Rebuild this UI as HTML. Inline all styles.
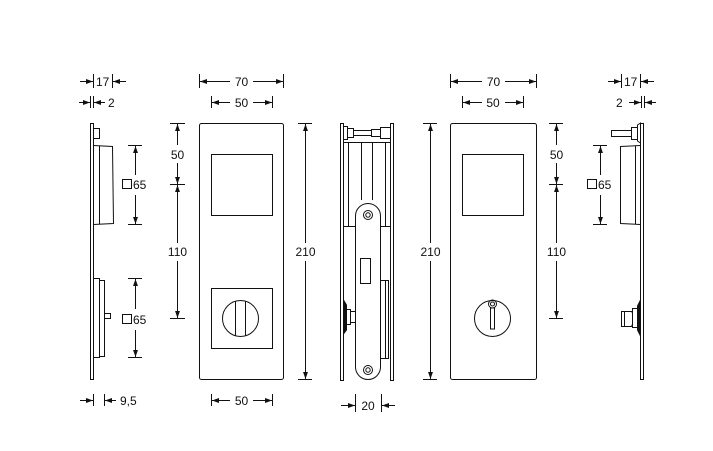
<!DOCTYPE html>
<html><head><meta charset="utf-8"><style>
html,body{margin:0;padding:0;background:#fff;}
svg{display:block}
text{font-family:"Liberation Sans",sans-serif;font-size:12px;fill:#111}
</style></head><body>
<svg width="713" height="451" viewBox="0 0 713 451" xmlns="http://www.w3.org/2000/svg">
<defs>
<marker id="a" viewBox="0 0 10 10" refX="10" refY="5" markerWidth="7" markerHeight="7" orient="auto-start-reverse" markerUnits="userSpaceOnUse"><path d="M0,1.5 L10,5 L0,8.5 z" fill="#111"/></marker>
</defs>
<g stroke="#111" stroke-width="1" fill="none">
<rect x="90.5" y="123.5" width="3" height="256"/>
<rect x="93.5" y="128.5" width="6" height="10"/>
<path d="M93.5,145.5 L112.5,146.5 L113.5,223.5 L93.5,224.5"/>
<line x1="99.5" y1="146" x2="99.5" y2="224"/>
<rect x="93.5" y="278.5" width="6" height="79"/>
<rect x="99.5" y="280.5" width="5" height="76"/>
<rect x="104.5" y="313.5" width="6" height="5"/>
<line x1="128" y1="145.5" x2="142" y2="145.5"/><line x1="128" y1="224.5" x2="142" y2="224.5"/>
<line x1="135.5" y1="146" x2="135.5" y2="175" marker-start="url(#a)"/>
<line x1="135.5" y1="195" x2="135.5" y2="224" marker-end="url(#a)"/>
<line x1="128" y1="278.5" x2="142" y2="278.5"/><line x1="128" y1="357.5" x2="142" y2="357.5"/>
<line x1="135.5" y1="279" x2="135.5" y2="309" marker-start="url(#a)"/>
<line x1="135.5" y1="330" x2="135.5" y2="357" marker-end="url(#a)"/>
<rect x="122.5" y="179.5" width="9" height="9"/>
<rect x="122.5" y="314.5" width="9" height="9"/>
<line x1="93.5" y1="74" x2="93.5" y2="88"/><line x1="112.5" y1="74" x2="112.5" y2="88"/>
<line x1="80" y1="81.5" x2="93" y2="81.5" marker-end="url(#a)"/>
<line x1="126" y1="81.5" x2="113" y2="81.5" marker-end="url(#a)"/>
<line x1="90.5" y1="96" x2="90.5" y2="108"/><line x1="93.5" y1="96" x2="93.5" y2="108"/>
<line x1="79" y1="102.5" x2="90" y2="102.5" marker-end="url(#a)"/>
<line x1="105" y1="102.5" x2="94" y2="102.5" marker-end="url(#a)"/>
<line x1="93.5" y1="394" x2="93.5" y2="406"/><line x1="104.5" y1="394" x2="104.5" y2="406"/>
<line x1="80" y1="400.5" x2="93" y2="400.5" marker-end="url(#a)"/>
<line x1="116" y1="400.5" x2="105" y2="400.5" marker-end="url(#a)"/>

<rect x="199.5" y="123.5" width="84" height="256" rx="2"/>
<rect x="211.5" y="154.5" width="61" height="61"/>
<rect x="211.5" y="288.5" width="61" height="60"/>
<circle cx="240.5" cy="318.5" r="18"/>
<line x1="235.5" y1="301" x2="235.5" y2="336"/><line x1="245.5" y1="301" x2="245.5" y2="336"/>
<line x1="199.5" y1="74" x2="199.5" y2="88"/><line x1="283.5" y1="74" x2="283.5" y2="88"/>
<line x1="200" y1="81.5" x2="230" y2="81.5" marker-start="url(#a)"/>
<line x1="253" y1="81.5" x2="283" y2="81.5" marker-end="url(#a)"/>
<line x1="211.5" y1="96" x2="211.5" y2="108"/><line x1="272.5" y1="96" x2="272.5" y2="108"/>
<line x1="212" y1="102.5" x2="230" y2="102.5" marker-start="url(#a)"/>
<line x1="253" y1="102.5" x2="272" y2="102.5" marker-end="url(#a)"/>
<line x1="211.5" y1="394" x2="211.5" y2="406"/><line x1="272.5" y1="394" x2="272.5" y2="406"/>
<line x1="212" y1="400.5" x2="230" y2="400.5" marker-start="url(#a)"/>
<line x1="253" y1="400.5" x2="272" y2="400.5" marker-end="url(#a)"/>
<line x1="170" y1="123.5" x2="185" y2="123.5"/><line x1="170" y1="184.5" x2="185" y2="184.5"/><line x1="170" y1="318.5" x2="185" y2="318.5"/>
<line x1="177.5" y1="124" x2="177.5" y2="145" marker-start="url(#a)"/>
<line x1="177.5" y1="163" x2="177.5" y2="184" marker-end="url(#a)"/>
<line x1="177.5" y1="185" x2="177.5" y2="243" marker-start="url(#a)"/>
<line x1="177.5" y1="261" x2="177.5" y2="318" marker-end="url(#a)"/>
<line x1="298" y1="123.5" x2="312" y2="123.5"/><line x1="298" y1="379.5" x2="312" y2="379.5"/>
<line x1="305.5" y1="124" x2="305.5" y2="243" marker-start="url(#a)"/>
<line x1="305.5" y1="261" x2="305.5" y2="379" marker-end="url(#a)"/>

<rect x="340.5" y="123.5" width="3" height="257"/>
<rect x="390.5" y="123.5" width="3" height="257"/>
<rect x="343.5" y="126.5" width="4" height="13"/>
<rect x="347.5" y="128.5" width="6" height="9"/>
<rect x="353.5" y="130.5" width="18" height="5"/>
<rect x="371.5" y="129.5" width="9" height="7"/>
<rect x="380.5" y="127.5" width="10" height="11"/>
<line x1="343" y1="142.5" x2="391" y2="142.5"/>
<path d="M348.5,143 L348.5,226 M361.5,143 L361.5,200 M372.5,143 L372.5,200 M385.5,143 L385.5,226"/>
<line x1="343" y1="226.5" x2="356" y2="226.5"/><line x1="380" y1="226.5" x2="391" y2="226.5"/>
<path d="M355.5,216 A12.5,12.5 0 0 1 380.5,216 L380.5,367 A12.5,12.5 0 0 1 355.5,367 Z"/>
<circle cx="368" cy="215" r="4.5"/><circle cx="368" cy="215" r="2.2"/>
<circle cx="368" cy="370" r="4.5"/><circle cx="368" cy="370" r="2.2"/>
<rect x="360.5" y="258.5" width="10" height="25"/>
<rect x="380.5" y="280.5" width="8" height="78"/>
<line x1="385.5" y1="281" x2="385.5" y2="358"/>
<path d="M343.5,300 L346.5,305 L346.5,330 L343.5,334 Z" fill="#111"/>
<rect x="346.5" y="309.5" width="4" height="15"/>
<rect x="350.5" y="311.5" width="5" height="11"/>
<line x1="355.5" y1="394" x2="355.5" y2="412"/><line x1="381.5" y1="394" x2="381.5" y2="412"/>
<line x1="341" y1="405.5" x2="355" y2="405.5" marker-end="url(#a)"/>
<line x1="395" y1="405.5" x2="382" y2="405.5" marker-end="url(#a)"/>

<rect x="450.5" y="123.5" width="86" height="256" rx="2"/>
<rect x="462.5" y="154.5" width="61" height="61"/>
<circle cx="492.5" cy="318.5" r="18"/>
<circle cx="492.5" cy="304" r="4"/><circle cx="492.5" cy="304" r="2"/>
<rect x="490.5" y="308" width="4" height="21"/>
<line x1="450.5" y1="74" x2="450.5" y2="88"/><line x1="536.5" y1="74" x2="536.5" y2="88"/>
<line x1="451" y1="81.5" x2="482" y2="81.5" marker-start="url(#a)"/>
<line x1="505" y1="81.5" x2="536" y2="81.5" marker-end="url(#a)"/>
<line x1="462.5" y1="96" x2="462.5" y2="108"/><line x1="523.5" y1="96" x2="523.5" y2="108"/>
<line x1="463" y1="102.5" x2="482" y2="102.5" marker-start="url(#a)"/>
<line x1="505" y1="102.5" x2="523" y2="102.5" marker-end="url(#a)"/>
<line x1="423" y1="123.5" x2="437" y2="123.5"/><line x1="423" y1="379.5" x2="437" y2="379.5"/>
<line x1="430.5" y1="124" x2="430.5" y2="243" marker-start="url(#a)"/>
<line x1="430.5" y1="261" x2="430.5" y2="379" marker-end="url(#a)"/>
<line x1="549" y1="123.5" x2="563" y2="123.5"/><line x1="549" y1="184.5" x2="563" y2="184.5"/><line x1="549" y1="318.5" x2="563" y2="318.5"/>
<line x1="556.5" y1="124" x2="556.5" y2="145" marker-start="url(#a)"/>
<line x1="556.5" y1="163" x2="556.5" y2="184" marker-end="url(#a)"/>
<line x1="556.5" y1="185" x2="556.5" y2="243" marker-start="url(#a)"/>
<line x1="556.5" y1="261" x2="556.5" y2="318" marker-end="url(#a)"/>

<rect x="640.5" y="123.5" width="3" height="256"/>
<rect x="611.5" y="130.5" width="20" height="6"/>
<rect x="631.5" y="127.5" width="6" height="12"/>
<path d="M637.5,125 L640.5,123 L640.5,143 L637.5,141 Z"/>
<path d="M640.5,145.5 L620.5,146.5 L620.5,223.5 L640.5,224.5"/>
<line x1="635.5" y1="146" x2="635.5" y2="224"/>
<path d="M640.5,300 L637.5,306 L637.5,330 L640.5,336 Z" fill="#111"/>
<rect x="632.5" y="308.5" width="5" height="19"/>
<path d="M621.5,311.5 L631.5,311.5 L632.5,313 L632.5,324 L631.5,326.5 L621.5,326.5 Z"/>
<line x1="624.5" y1="312" x2="624.5" y2="326"/>
<line x1="593" y1="145.5" x2="607" y2="145.5"/><line x1="593" y1="224.5" x2="607" y2="224.5"/>
<line x1="600.5" y1="146" x2="600.5" y2="175" marker-start="url(#a)"/>
<line x1="600.5" y1="195" x2="600.5" y2="224" marker-end="url(#a)"/>
<rect x="587.5" y="179.5" width="9" height="9"/>
<line x1="621.5" y1="74" x2="621.5" y2="88"/><line x1="640.5" y1="74" x2="640.5" y2="88"/>
<line x1="608" y1="81.5" x2="621" y2="81.5" marker-end="url(#a)"/>
<line x1="654" y1="81.5" x2="641" y2="81.5" marker-end="url(#a)"/>
<line x1="641.5" y1="96" x2="641.5" y2="108"/><line x1="644.5" y1="96" x2="644.5" y2="108"/>
<line x1="629" y1="102.5" x2="641" y2="102.5" marker-end="url(#a)"/>
<line x1="656" y1="102.5" x2="645" y2="102.5" marker-end="url(#a)"/>
</g>
<g>
<text x="96" y="86">17</text>
<text x="108" y="107">2</text>
<text x="133" y="189">65</text>
<text x="133" y="324">65</text>
<text x="120" y="405">9,5</text>
<text x="241.5" y="86" text-anchor="middle">70</text>
<text x="241.5" y="107" text-anchor="middle">50</text>
<text x="241.5" y="405" text-anchor="middle">50</text>
<text x="177.5" y="159" text-anchor="middle">50</text>
<text x="177.5" y="256" text-anchor="middle">110</text>
<text x="305.5" y="256" text-anchor="middle">210</text>
<text x="368" y="410" text-anchor="middle">20</text>
<text x="493.5" y="86" text-anchor="middle">70</text>
<text x="493" y="107" text-anchor="middle">50</text>
<text x="430.5" y="256" text-anchor="middle">210</text>
<text x="556.5" y="159" text-anchor="middle">50</text>
<text x="556.5" y="256" text-anchor="middle">110</text>
<text x="598" y="189">65</text>
<text x="624" y="86">17</text>
<text x="616" y="107">2</text>
</g>
</svg>
</body></html>
